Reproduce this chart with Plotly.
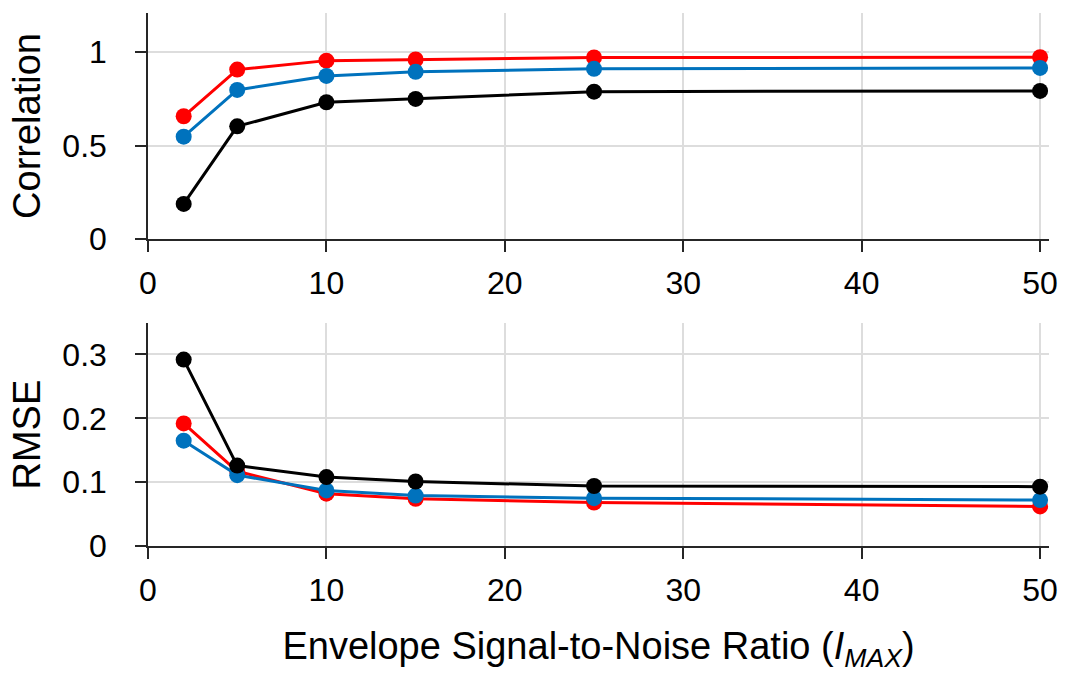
import plotly.graph_objects as go
from plotly.subplots import make_subplots

# ---- data ----
snr = [2, 5, 10, 15, 25, 50]

corr_red = [0.657, 0.907, 0.955, 0.961, 0.972, 0.973]
corr_blue = [0.548, 0.798, 0.873, 0.895, 0.911, 0.916]
corr_black = [0.188, 0.603, 0.732, 0.750, 0.789, 0.793]

rmse_red = [0.192, 0.117, 0.082, 0.074, 0.068, 0.062]
rmse_blue = [0.165, 0.111, 0.087, 0.079, 0.075, 0.072]
rmse_black = [0.292, 0.126, 0.108, 0.101, 0.094, 0.093]

x_ticks = [0, 10, 20, 30, 40, 50]
corr_ticks = [0, 0.5, 1]
rmse_ticks = [0, 0.1, 0.2, 0.3]

RED = "#FF0000"
BLUE = "#0072BD"
BLACK = "#000000"
AXIS = "#262626"
GRID = "#DDDDDD"
FONT = "Liberation Sans, Arial, sans-serif"

fig = make_subplots(rows=2, cols=1)

series = [
    ("Series 1", RED, corr_red, rmse_red),
    ("Series 2", BLUE, corr_blue, rmse_blue),
    ("Series 3", BLACK, corr_black, rmse_black),
]
for name, color, c, r in series:
    fig.add_trace(go.Scatter(x=snr, y=c, mode="lines+markers", name=name,
                             line=dict(color=color, width=3),
                             marker=dict(color=color, size=16),
                             showlegend=False), row=1, col=1)
    fig.add_trace(go.Scatter(x=snr, y=r, mode="lines+markers", name=name,
                             line=dict(color=color, width=3),
                             marker=dict(color=color, size=16),
                             showlegend=False), row=2, col=1)

xcommon = dict(range=[0, 50.5], tickvals=x_ticks, ticks="outside", ticklen=11,
               tickwidth=1.5, tickcolor=AXIS, showline=True, linecolor=AXIS,
               linewidth=1.5, showgrid=True, gridcolor=GRID, gridwidth=1.5,
               zeroline=False, tickfont=dict(size=32, color="black", family=FONT),
               ticklabelstandoff=4)
ycommon = dict(ticks="outside", ticklen=11, tickwidth=1.5, tickcolor=AXIS,
               showline=True, linecolor=AXIS, linewidth=1.5, showgrid=True,
               gridcolor=GRID, gridwidth=1.5, zeroline=False,
               tickfont=dict(size=32, color="black", family=FONT),
               ticklabelstandoff=22)

fig.update_xaxes(**xcommon, row=1, col=1)
fig.update_xaxes(**xcommon, row=2, col=1)
fig.update_xaxes(title=dict(text="Envelope Signal-to-Noise Ratio (<i>I</i><sub><i>MAX</i></sub>)",
                            font=dict(size=38, color="black", family=FONT), standoff=25),
                 row=2, col=1)

fig.update_yaxes(**ycommon, range=[0, 1.21], tickvals=corr_ticks,
                 ticktext=["0", "0.5", "1"], domain=[0.576, 1.0],
                 title=dict(text="Correlation", font=dict(size=38, color="black", family=FONT),
                            standoff=10), row=1, col=1)
fig.update_yaxes(**ycommon, range=[0, 0.349], tickvals=rmse_ticks,
                 ticktext=["0", "0.1", "0.2", "0.3"], domain=[0.0, 0.418],
                 title=dict(text="RMSE", font=dict(size=38, color="black", family=FONT),
                            standoff=10), row=2, col=1)

fig.update_layout(width=1072, height=673, margin=dict(l=148, r=23, t=13, b=127),
                  plot_bgcolor="white", paper_bgcolor="white",
                  font=dict(family=FONT, color="black"))

fig.write_html("out.html")
